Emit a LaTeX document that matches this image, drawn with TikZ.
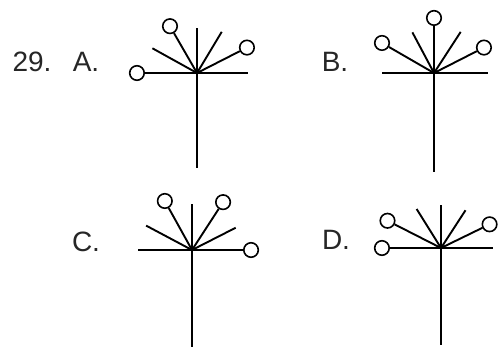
\documentclass[tikz,border=0pt]{standalone}
\usepackage{fontspec}
\setmainfont{Liberation Sans}
\begin{document}
\begin{tikzpicture}[x=1pt, y=1pt, line width=1.9pt,
  knob/.style={circle, draw, line width=1.6pt, inner sep=0pt, minimum size=14.5pt, fill=white},
  lbl/.style={font=\fontsize{28}{32}\selectfont, text=black!85}]
  \useasboundingbox (0,0) rectangle (498,349);

  \node[lbl] (num) at (32,287) {29.};
  \node[lbl] (la) at (86,287) {A.};
  \node[lbl] (lb) at (335,287) {B.};
  \node[lbl] (lc) at (86,107) {C.};
  \node[lbl] (ld) at (336,109) {D.};

  % A
  \coordinate (A) at (197,276);
  \draw (A) -- ++(0,-95);
  \draw (A) -- ++(0:51);
  \draw (A) -- ++(180:52) node[knob, anchor=0] (a1) {};
  \draw (A) -- ++(151:51);
  \draw (A) -- ++(120:46) node[knob, anchor=300] (a2) {};
  \draw (A) -- ++(90:45);
  \draw (A) -- ++(59:48);
  \draw (A) -- ++(27:48) node[knob, anchor=207] (a3) {};

  % B
  \coordinate (B) at (434,276);
  \draw (B) -- ++(0,-99);
  \draw (B) -- ++(0:54);
  \draw (B) -- ++(180:52);
  \draw (B) -- ++(150:52) node[knob, anchor=330] (b1) {};
  \draw (B) -- ++(118:46);
  \draw (B) -- ++(90:47) node[knob, anchor=270] (b2) {};
  \draw (B) -- ++(57:49);
  \draw (B) -- ++(27:48) node[knob, anchor=207] (b3) {};

  % C
  \coordinate (C) at (192,99);
  \draw (C) -- ++(0,-97);
  \draw (C) -- ++(180:54);
  \draw (C) -- ++(0:51) node[knob, anchor=180] (c1) {};
  \draw (C) -- ++(152:52);
  \draw (C) -- ++(119:48) node[knob, anchor=299] (c2) {};
  \draw (C) -- ++(90:46);
  \draw (C) -- ++(57:49) node[knob, anchor=237] (c3) {};
  \draw (C) -- ++(27:49);

  % D
  \coordinate (D) at (441,101);
  \draw (D) -- ++(0,-97);
  \draw (D) -- ++(0:52);
  \draw (D) -- ++(180:51) node[knob, anchor=0] (d1) {};
  \draw (D) -- ++(153:52) node[knob, anchor=333] (d2) {};
  \draw (D) -- ++(122:46);
  \draw (D) -- ++(90:43);
  \draw (D) -- ++(57:45);
  \draw (D) -- ++(26:46) node[knob, anchor=206] (d3) {};
\end{tikzpicture}
\end{document}
